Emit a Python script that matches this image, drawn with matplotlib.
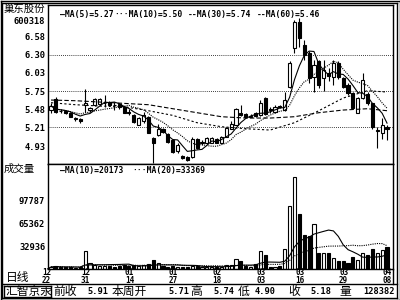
import matplotlib
matplotlib.use('Agg')
import matplotlib.pyplot as plt
from matplotlib.patches import Rectangle
from matplotlib.transforms import blended_transform_factory
import pandas as pd

# ---- data ----
stock_name = '巢东股份'
stock_code = '600318'

opens = [5.47, 5.64, 5.46, 5.45, 5.43, 5.34, 5.34, 5.55, 5.47, 5.55,
         5.56, 5.57, 5.59, 5.55, 5.56, 5.52, 5.44, 5.40, 5.25, 5.30,
         5.37, 5.05, 5.10, 5.19, 5.11, 5.02, 4.86, 4.78, 4.77, 4.77,
         5.04, 4.98, 4.98, 4.98, 5.04, 4.98, 5.07, 5.19, 5.25, 5.42,
         5.41, 5.37, 5.43, 5.40, 5.65, 5.49, 5.44, 5.53, 5.47, 5.82,
         6.40, 6.79, 6.45, 6.33, 5.97, 6.20, 5.95, 6.03, 5.97, 6.18,
         5.95, 5.85, 5.72, 5.43, 5.65, 5.71, 5.57, 5.16, 5.13, 5.22]
highs = [5.57, 5.66, 5.48, 5.46, 5.44, 5.37, 5.35, 5.79, 5.52, 5.65,
         5.65, 5.70, 5.60, 5.59, 5.57, 5.53, 5.48, 5.41, 5.36, 5.44,
         5.38, 5.06, 5.26, 5.20, 5.12, 5.04, 4.97, 4.80, 4.78, 5.06,
         5.05, 5.02, 5.06, 5.07, 5.05, 5.08, 5.21, 5.30, 5.50, 5.55,
         5.43, 5.41, 5.44, 5.62, 5.67, 5.52, 5.54, 5.55, 5.74, 6.20,
         6.82, 6.85, 6.52, 6.35, 6.22, 6.22, 6.22, 6.10, 6.22, 6.20,
         5.97, 5.87, 5.74, 5.67, 6.03, 5.74, 5.58, 5.21, 5.35, 5.24]
lows = [5.43, 5.42, 5.42, 5.41, 5.36, 5.31, 5.28, 5.44, 5.44, 5.53,
        5.55, 5.52, 5.53, 5.47, 5.48, 5.42, 5.40, 5.28, 5.24, 5.28,
        5.12, 4.67, 5.08, 5.12, 4.98, 4.83, 4.83, 4.73, 4.70, 4.75,
        4.88, 4.95, 4.96, 4.97, 4.97, 4.97, 5.06, 5.18, 5.24, 5.38,
        5.36, 5.36, 5.37, 5.38, 5.39, 5.42, 5.42, 5.50, 5.46, 5.80,
        6.33, 6.42, 6.22, 5.88, 5.74, 5.80, 5.75, 5.90, 5.85, 5.93,
        5.80, 5.70, 5.48, 5.42, 5.63, 5.55, 5.19, 4.90, 5.03, 5.02]
closes = [5.53, 5.44, 5.45, 5.43, 5.37, 5.35, 5.30, 5.57, 5.50, 5.64,
          5.64, 5.58, 5.55, 5.54, 5.52, 5.43, 5.43, 5.29, 5.35, 5.40,
          5.13, 4.98, 5.19, 5.14, 4.99, 4.84, 4.95, 4.75, 4.72, 5.04,
          4.90, 4.99, 5.05, 5.05, 4.98, 5.07, 5.20, 5.26, 5.49, 5.40,
          5.37, 5.38, 5.38, 5.58, 5.41, 5.47, 5.52, 5.52, 5.62, 6.18,
          6.79, 6.55, 6.30, 5.95, 6.15, 5.85, 6.07, 5.98, 6.18, 5.97,
          5.82, 5.72, 5.50, 5.65, 5.92, 5.57, 5.21, 5.17, 5.24, 5.18]
volumes = [3500, 4500, 3000, 3000, 3500, 2500, 3000, 26000, 9000, 6000,
           5000, 4500, 5000, 4000, 4500, 5500, 4500, 6000, 5000, 5500,
           7000, 13000, 8500, 4500, 4000, 4500, 4000, 3000, 3500, 5000,
           4500, 3500, 3500, 3500, 4000, 3000, 5500, 6500, 14000, 11500,
           5000, 4000, 7000, 26500, 20000, 3500, 4000, 5000, 28500, 89000,
           130500, 78000, 48000, 47000, 64000, 23500, 23000, 23000, 16500, 12000,
           12000, 9000, 18000, 13000, 23000, 20000, 28500, 23000, 27000, 31000]

ma_idx = [0, 5, 10, 15, 20, 25, 30, 35, 40, 45, 50, 55, 60, 65, 69]
ma30 = [5.58, 5.55, 5.53, 5.52, 5.46, 5.39, 5.28, 5.22, 5.19, 5.17, 5.28, 5.46, 5.65, 5.76, 5.74]
ma60 = [5.62, 5.61, 5.59, 5.57, 5.55, 5.49, 5.43, 5.37, 5.35, 5.35, 5.37, 5.43, 5.47, 5.49, 5.46]
vol_ma_last = [20173, 33369]

date_labels = ['12\n22', '12\n31', '01\n14', '01\n27', '02\n18', '03\n03', '03\n16', '03\n29', '04\n08']
date_idx = [0, 8, 17, 26, 35, 44, 52, 61, 70]

price_ticks = [6.58, 6.30, 6.03, 5.75, 5.48, 5.21, 4.93]
grid_prices = [6.30, 5.75, 5.21]
vol_ticks = [97787, 65362, 32936]

info = [('前收', 53), ('5.91', 87), ('本周开', 112), ('5.71', 168), ('高', 190),
        ('5.74', 213), ('低', 238), ('4.90', 255), ('收', 288), ('5.18', 310),
        ('量', 339), ('128382', 363)]

# ---- figure ----
W, H = 400, 300
fig = plt.figure(figsize=(4, 3), dpi=100)
mono = 'DejaVu Sans Mono'
cjk = ['Noto Sans CJK SC', 'DejaVu Sans']


def rect(x0, y0, x1, y1):
    return [x0 / W, 1 - y1 / H, (x1 - x0) / W, (y1 - y0) / H]


def ftext(x, y, s, **kw):
    fig.text(x / W, 1 - y / H, s, **kw)


n = len(closes)
idx = list(range(n))
xlim = (-0.62, 70.23)

ax = fig.add_axes(rect(48, 5, 393, 164))
axv = fig.add_axes(rect(48, 164, 393, 269.4))
for a in (ax, axv):
    a.set_xlim(*xlim)
    a.set_xticks([])
    for s in a.spines.values():
        s.set_linewidth(1)
    a.tick_params(axis='y', length=0, pad=2)

ax.set_ylim(4.661, 7.045)
ax.set_yticks(price_ticks)
ax.set_yticklabels(['%.2f' % p for p in price_ticks], family=mono, fontsize=6.3, fontweight='bold')
for g in grid_prices:
    ax.axhline(g, color='black', lw=0.6, linestyle=(0, (1, 1.5)))

bw = 0.64
for i in idx:
    o, h, l, c = opens[i], highs[i], lows[i], closes[i]
    ax.vlines(i, l, h, color='black', lw=0.8, zorder=2)
    if c > o:
        ax.add_patch(Rectangle((i - bw / 2, o), bw, c - o, facecolor='white',
                               edgecolor='black', lw=0.8, zorder=3))
    elif c < o:
        ax.add_patch(Rectangle((i - bw / 2, c), bw, o - c, facecolor='black',
                               edgecolor='black', lw=0.8, zorder=3))
    else:
        ax.hlines(c, i - bw / 2, i + bw / 2, color='black', lw=0.8, zorder=3)

cs = pd.Series(closes)
ma5 = cs.rolling(5, min_periods=1).mean()
ma10 = cs.rolling(10, min_periods=1).mean()
ax.plot(idx, ma5, color='black', lw=0.8, zorder=4)
ax.plot(idx, ma10, color='black', lw=0.8, linestyle=(0, (1, 1)), zorder=4)
ax.plot(ma_idx, ma30, color='black', lw=0.8, linestyle=(0, (2, 2)), zorder=4)
ax.plot(ma_idx, ma60, color='black', lw=0.8, linestyle=(0, (4, 2)), zorder=4)

# volume
axv.set_ylim(0, (269.4 - 164) * 1409.8)
axv.set_yticks(vol_ticks)
axv.set_yticklabels([str(v) for v in vol_ticks], family=mono, fontsize=6.3, fontweight='bold')
for i in idx:
    up = closes[i] >= opens[i]
    axv.bar(i, volumes[i], width=bw, facecolor='white' if up else 'black',
            edgecolor='black', lw=0.8)
vs = pd.Series(volumes)
axv.plot(idx, vs.rolling(10, min_periods=1).mean(), color='black', lw=0.8)
axv.plot(idx, vs.rolling(20, min_periods=1).mean(), color='black', lw=0.8,
         linestyle=(0, (1, 1)))

# legends
lg = dict(family=mono, fontsize=5.8, fontweight='bold', va='center')
ftext(60, 14, '—MA(5)=%.2f' % ma5.iloc[-1], **lg)
ftext(114, 14, '···MA(10)=%.2f' % ma10.iloc[-1], **lg)
ftext(188, 14, '--MA(30)=%.2f' % ma30[-1], **lg)
ftext(257, 14, '--MA(60)=%.2f' % ma60[-1], **lg)
ftext(60, 170, '—MA(10)=%d' % vol_ma_last[0], **lg)
ftext(132, 170, '···MA(20)=%d' % vol_ma_last[1], **lg)

ftext(4, 9, stock_name, family=cjk, fontsize=7.5, va='center')
ftext(45, 21, stock_code, family=mono, fontsize=6.3, fontweight='bold', va='center', ha='right')
ftext(4, 169, '成交量', family=cjk, fontsize=7.5, va='center')
ftext(6, 277, '日线', family=cjk, fontsize=8.5, va='center')

# date labels
tr = blended_transform_factory(axv.transData, fig.transFigure)
for d, k in zip(date_labels, date_idx):
    axv.text(k - 0.9, 1 - 276.5 / H, d, transform=tr, ha='center', va='center',
             family=mono, fontsize=5.5, fontweight='bold', linespacing=0.9,
             clip_on=False)

# info bar
for s, x in info:
    if s[0].isdigit():
        ftext(x, 291, s, family=mono, fontsize=6.2, fontweight='bold', va='center')
    else:
        ftext(x, 291, s, family=cjk, fontsize=8.5, va='center')
ftext(5, 291, '汇智京汞', family=cjk, fontsize=8.5, va='center')

# frame lines
lines = [
    ((0.5, 0.5), (0.5, 299.5)), ((0.5, 0.5), (399.5, 0.5)),
    ((399.5, 0.5), (399.5, 299.5)), ((0.5, 299.5), (399.5, 299.5)),
    ((2, 2.5), (397, 2.5)), ((397, 2.5), (397, 297.5)),
    ((2, 297.5), (397, 297.5)), ((2, 2.5), (2, 297.5)),
    ((2, 284), (397, 284)), ((393, 270), (393, 284)),
    ((3.5, 285.5), (50.5, 285.5)), ((3.5, 296.5), (50.5, 296.5)),
    ((3.5, 285.5), (3.5, 296.5)), ((50.5, 285.5), (50.5, 296.5)),
]
for (x0, y0), (x1, y1) in lines:
    fig.add_artist(plt.Line2D([x0 / W, x1 / W], [1 - y0 / H, 1 - y1 / H],
                              color='black', lw=1, transform=fig.transFigure))

fig.savefig('out.png', dpi=100)
